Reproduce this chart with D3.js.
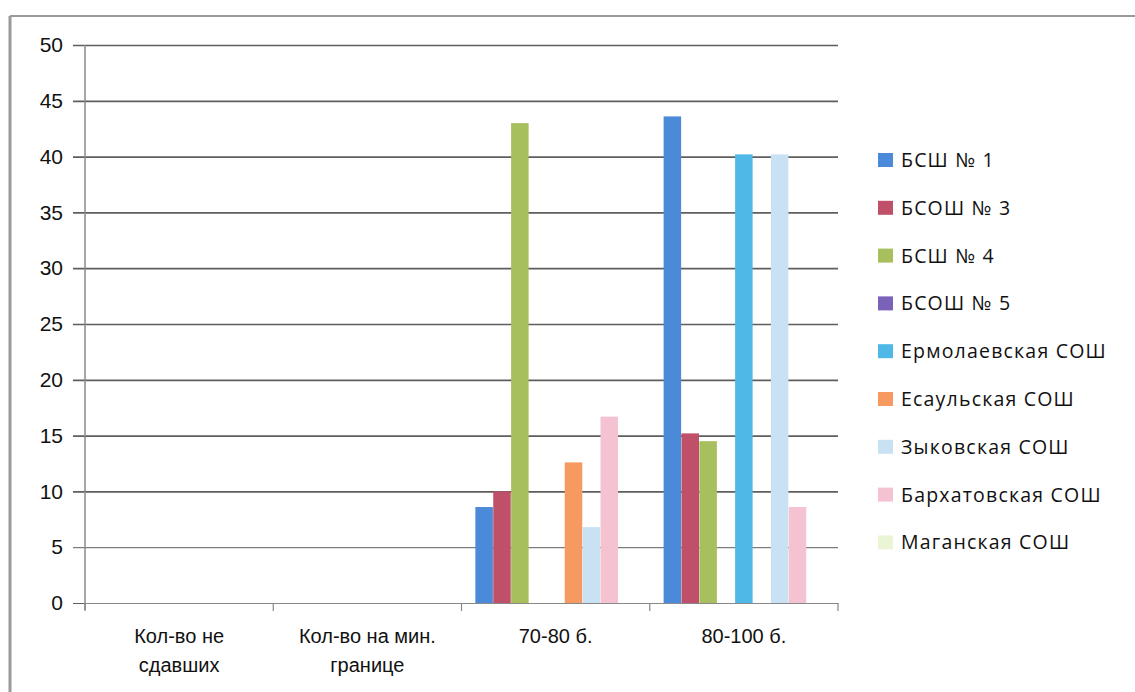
<!DOCTYPE html>
<html><head><meta charset="utf-8">
<script src="https://cdn.jsdelivr.net/npm/d3@7"></script>
<style>body{margin:0;background:#fff;}svg{display:block;}</style>
</head><body><svg id="c" width="1135" height="692"></svg>
<script>
const categories = [["Кол-во не","сдавших"],["Кол-во на мин.","границе"],["70-80 б."],["80-100 б."]];
const seriesNames = ["БСШ № 1","БСОШ № 3","БСШ № 4","БСОШ № 5","Ермолаевская СОШ","Есаульская СОШ","Зыковская СОШ","Бархатовская СОШ","Маганская СОШ"];
const seriesColors = ["#4a8ad8","#c0506a","#a8bf5e","#7a62b8","#4fb8e6","#f79a62","#c8e2f4","#f5c2d2","#eaf5d6"];
const values = [
  [0,0,8.6,43.6],
  [0,0,10,15.2],
  [0,0,43,14.5],
  [0,0,0,0],
  [0,0,0,40.2],
  [0,0,12.6,0],
  [0,0,6.8,40.2],
  [0,0,16.7,8.6],
  [0,0,0,0]
];
const yTicks = [0,5,10,15,20,25,30,35,40,45,50];

const svg = d3.select("#c");
const L = 85, R = 838, T = 45, B = 603;
const x = d3.scaleBand().domain(d3.range(categories.length)).range([L,R]).paddingInner(0).paddingOuter(0);
const y = d3.scaleLinear().domain([0,50]).range([B,T]);
const xs = d3.scaleBand().domain(d3.range(seriesNames.length)).range([13.5, x.bandwidth()-13.5]).padding(0.02);

// frame
svg.append("line").attr("x1",10).attr("x2",1135).attr("y1",16).attr("y2",16).attr("stroke","#9a9a9a").attr("stroke-width",2);
svg.append("line").attr("x1",10).attr("x2",10).attr("y1",16).attr("y2",692).attr("stroke","#9a9a9a").attr("stroke-width",3);

// grid
const yAxis = d3.axisLeft(y).tickValues(yTicks).tickSize(-(R-L)).tickPadding(22).tickFormat(d3.format("d"));
const gy = svg.append("g").attr("transform",`translate(${L},0)`).call(yAxis);
gy.select(".domain").remove();
gy.selectAll(".tick line").attr("x1",-12).attr("stroke","#5e5e5e").attr("stroke-width",d=>d<=5?1:1.7);
gy.selectAll(".tick text").attr("font-family","'Liberation Sans', Arial, sans-serif").attr("font-size",21).attr("fill","#111");
svg.append("line").attr("x1",L).attr("x2",L).attr("y1",T).attr("y2",B+7).attr("stroke","#8a8a8a").attr("stroke-width",1.5);

// bars
const groups = svg.append("g").selectAll("g").data(seriesNames).join("g").attr("fill",(d,i)=>seriesColors[i]);
groups.each(function(name,si){
  d3.select(this).selectAll("rect").data(values[si]).join("rect")
    .attr("x",(v,ci)=>x(ci)+xs(si))
    .attr("width",xs.bandwidth())
    .attr("y",v=>y(v))
    .attr("height",v=>B-y(v));
});

// x axis
const xAxis = d3.axisBottom(x).tickSize(0).tickFormat("");
const gx = svg.append("g").attr("transform",`translate(0,${B})`).call(xAxis);
gx.select(".domain").attr("stroke","#888").attr("stroke-width",1.2);
svg.append("g").selectAll("line").data(d3.range(categories.length+1)).join("line")
  .attr("x1",i=>L+i*x.bandwidth()).attr("x2",i=>L+i*x.bandwidth())
  .attr("y1",B).attr("y2",B+8).attr("stroke","#888").attr("stroke-width",1.2);
const lbl = svg.append("g").selectAll("text").data(categories).join("text")
  .attr("x",(d,i)=>x(i)+x.bandwidth()/2).attr("y",643)
  .attr("text-anchor","middle")
  .attr("font-family","'Liberation Sans Narrow','Arial Narrow','Liberation Sans',sans-serif")
  .attr("font-size",20).attr("fill","#111");
lbl.each(function(d){
  d3.select(this).selectAll("tspan").data(d).join("tspan")
    .attr("x",d3.select(this).attr("x")).attr("dy",(t,i)=>i?29:0).text(t=>t);
});

// legend
const lg = svg.append("g").selectAll("g").data(seriesNames).join("g")
  .attr("transform",(d,i)=>`translate(878,${160+i*47.8})`);
lg.append("rect").attr("x",0).attr("y",-7).attr("width",15).attr("height",14).attr("fill",(d,i)=>seriesColors[i]);
lg.append("text").attr("x",23).attr("y",7).text(d=>d)
  .attr("font-family","'Open Sans', sans-serif").attr("font-size",19.5).attr("letter-spacing",1.2).attr("fill","#111");
</script></body></html>
